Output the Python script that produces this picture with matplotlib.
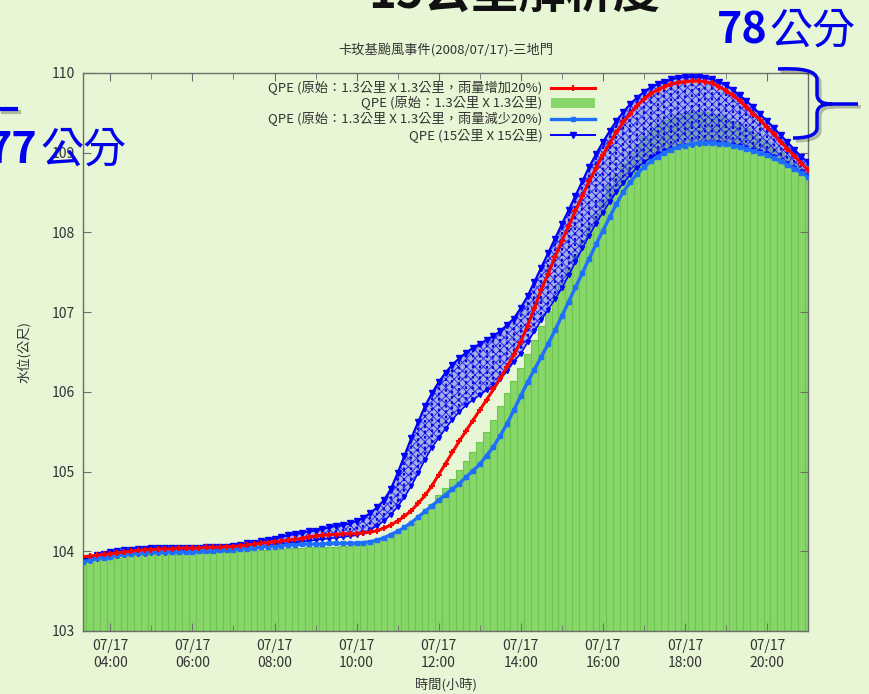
import numpy as np
import pandas as pd
import matplotlib
matplotlib.use("Agg")
import matplotlib.pyplot as plt
import matplotlib.dates as mdates
import matplotlib.patheffects as pe
from matplotlib.path import Path
from matplotlib.patches import PathPatch, Rectangle
from matplotlib.lines import Line2D

plt.rcParams['font.family'] = ['Noto Sans CJK TC', 'DejaVu Sans']
plt.rcParams['hatch.linewidth'] = 0.6

# --- Data: 10-minute water levels (m), 07/17 03:20 - 21:00 ---
times = pd.date_range("2008-07-17 03:20", "2008-07-17 21:00", freq="10min")

# QPE original 1.3km x 1.3km, rainfall +20%
level_plus = [
    103.93, 103.94, 103.95, 103.96, 103.97, 103.98, 103.99, 104.00, 104.01, 104.02,
    104.02, 104.03, 104.03, 104.03, 104.04, 104.04, 104.04, 104.04, 104.05, 104.05,
    104.05, 104.06, 104.06, 104.07, 104.08, 104.09, 104.10, 104.11, 104.12, 104.13,
    104.14, 104.15, 104.16, 104.18, 104.19, 104.20, 104.21, 104.21, 104.22, 104.22,
    104.22, 104.23, 104.24, 104.26, 104.29, 104.33, 104.38, 104.44, 104.51, 104.60,
    104.70, 104.82, 104.96, 105.10, 105.24, 105.38, 105.51, 105.64, 105.77, 105.90,
    106.03, 106.17, 106.31, 106.47, 106.63, 106.83, 107.05, 107.28, 107.48, 107.69,
    107.89, 108.08, 108.27, 108.46, 108.64, 108.81, 108.97, 109.12, 109.26, 109.38,
    109.49, 109.59, 109.67, 109.74, 109.79, 109.83, 109.86, 109.88, 109.89, 109.90,
    109.90, 109.89, 109.87, 109.83, 109.78, 109.72, 109.65, 109.57, 109.49, 109.41,
    109.32, 109.23, 109.14, 109.05, 108.96, 108.87, 108.78,
]

# QPE original 1.3km x 1.3km
level_orig = [
    103.87, 103.88, 103.89, 103.90, 103.91, 103.92, 103.93, 103.94, 103.95, 103.95,
    103.96, 103.96, 103.97, 103.97, 103.97, 103.98, 103.98, 103.98, 103.98, 103.99,
    103.99, 103.99, 104.00, 104.00, 104.01, 104.01, 104.02, 104.02, 104.03, 104.03,
    104.04, 104.04, 104.04, 104.05, 104.05, 104.05, 104.06, 104.06, 104.07, 104.07,
    104.08, 104.09, 104.11, 104.13, 104.16, 104.20, 104.24, 104.29, 104.35, 104.42,
    104.50, 104.59, 104.70, 104.80, 104.91, 105.02, 105.13, 105.25, 105.37, 105.50,
    105.65, 105.82, 105.98, 106.14, 106.30, 106.47, 106.65, 106.83, 107.01, 107.19,
    107.37, 107.55, 107.73, 107.91, 108.08, 108.25, 108.42, 108.58, 108.73, 108.87,
    109.00, 109.11, 109.21, 109.29, 109.36, 109.41, 109.45, 109.48, 109.50, 109.51,
    109.51, 109.51, 109.49, 109.47, 109.44, 109.40, 109.36, 109.31, 109.25, 109.19,
    109.13, 109.07, 109.01, 108.94, 108.87, 108.80, 108.74,
]

# QPE original 1.3km x 1.3km, rainfall -20%
level_minus = [
    103.87, 103.89, 103.91, 103.92, 103.93, 103.95, 103.96, 103.97, 103.98, 103.98,
    103.99, 103.99, 103.99, 103.99, 103.99, 103.99, 103.99, 104.00, 104.00, 104.00,
    104.01, 104.01, 104.02, 104.03, 104.03, 104.04, 104.05, 104.06, 104.06, 104.07,
    104.08, 104.08, 104.09, 104.09, 104.09, 104.09, 104.10, 104.10, 104.10, 104.10,
    104.10, 104.11, 104.12, 104.14, 104.17, 104.21, 104.25, 104.30, 104.36, 104.43,
    104.50, 104.57, 104.64, 104.71, 104.78, 104.85, 104.93, 105.01, 105.09, 105.20,
    105.31, 105.45, 105.60, 105.77, 105.95, 106.12, 106.28, 106.44, 106.60, 106.77,
    106.95, 107.13, 107.31, 107.49, 107.67, 107.85, 108.02, 108.19, 108.36, 108.51,
    108.63, 108.73, 108.82, 108.89, 108.95, 109.00, 109.04, 109.07, 109.09, 109.11,
    109.12, 109.12, 109.12, 109.11, 109.11, 109.09, 109.07, 109.05, 109.02, 109.00,
    108.97, 108.93, 108.89, 108.85, 108.80, 108.75, 108.70,
]

# QPE 15km x 15km ensemble: upper / lower envelope of the members
ens_high = [
    103.89, 103.92, 103.95, 103.97, 103.99, 104.00, 104.01, 104.02, 104.03, 104.03,
    104.04, 104.04, 104.04, 104.04, 104.04, 104.04, 104.04, 104.04, 104.05, 104.05,
    104.05, 104.06, 104.07, 104.08, 104.10, 104.11, 104.13, 104.14, 104.16, 104.18,
    104.20, 104.22, 104.23, 104.25, 104.26, 104.28, 104.30, 104.32, 104.33, 104.35,
    104.38, 104.42, 104.48, 104.55, 104.64, 104.78, 104.98, 105.20, 105.42, 105.62,
    105.82, 105.98, 106.12, 106.24, 106.34, 106.42, 106.49, 106.55, 106.60, 106.65,
    106.70, 106.76, 106.84, 106.92, 107.05, 107.20, 107.38, 107.56, 107.74, 107.92,
    108.10, 108.28, 108.46, 108.64, 108.82, 108.98, 109.13, 109.27, 109.40, 109.51,
    109.61, 109.69, 109.76, 109.82, 109.86, 109.89, 109.92, 109.94, 109.95, 109.95,
    109.95, 109.94, 109.92, 109.89, 109.85, 109.79, 109.72, 109.65, 109.57, 109.48,
    109.40, 109.31, 109.22, 109.13, 109.04, 108.95, 108.88,
]
ens_low = [
    103.86, 103.88, 103.90, 103.92, 103.93, 103.94, 103.95, 103.96, 103.97, 103.97,
    103.98, 103.98, 103.98, 103.99, 103.99, 103.99, 103.99, 104.00, 104.00, 104.00,
    104.01, 104.01, 104.02, 104.03, 104.04, 104.05, 104.06, 104.07, 104.08, 104.09,
    104.10, 104.11, 104.12, 104.13, 104.14, 104.15, 104.16, 104.17, 104.18, 104.19,
    104.20, 104.23, 104.27, 104.32, 104.38, 104.46, 104.56, 104.68, 104.82, 104.98,
    105.15, 105.30, 105.42, 105.54, 105.65, 105.75, 105.83, 105.90, 105.96, 106.02,
    106.08, 106.16, 106.26, 106.38, 106.48, 106.62, 106.76, 106.90, 107.03, 107.16,
    107.30, 107.46, 107.63, 107.80, 107.96, 108.11, 108.25, 108.38, 108.51, 108.62,
    108.72, 108.81, 108.88, 108.94, 108.98, 109.02, 109.05, 109.07, 109.09, 109.10,
    109.11, 109.12, 109.12, 109.12, 109.11, 109.10, 109.08, 109.06, 109.03, 109.01,
    108.98, 108.94, 108.90, 108.86, 108.81, 108.76, 108.71,
]

labels = [
    "QPE (原始：1.3公里 X 1.3公里，雨量增加20%)",
    "QPE (原始：1.3公里 X 1.3公里)",
    "QPE (原始：1.3公里 X 1.3公里，雨量減少20%)",
    "QPE (15公里 X 15公里)",
]

BG = '#e7f6d4'
TXT = '#333333'
RED = '#ff0000'
GREEN = '#88d66a'
LBLUE = '#1f6fff'
BLUE = '#0000ff'
W, H = 869, 694


def fx(x):
    return x / W


def fy(y):
    return 1 - y / H


fig = plt.figure(figsize=(W / 100, H / 100), dpi=100, facecolor=BG)
ax = fig.add_axes([fx(83), fy(631), 725 / W, 558 / H])
ax.set_facecolor(BG)

# --- Series ---
bar_w = 10 / (24 * 60)
ax.bar(times, level_orig, width=bar_w, color=GREEN, edgecolor='#6cc64e',
       linewidth=0.8, zorder=1)

# ensemble band: cross-hatched spread plus dotted member columns
ax.fill_between(times, ens_low, ens_high, facecolor=(0.42, 0.45, 0.95, 0.55),
                edgecolor='#1a1aff', hatch='xxxx', linewidth=0, zorder=2)
ax.vlines(times, ens_low, ens_high, colors='#0808d0', linestyles=(0, (1.2, 1.2)),
          linewidth=1.6, zorder=2.5)
ax.plot(times, ens_high, color=BLUE, lw=1.6, marker='v', ms=4, zorder=3)
ax.plot(times, ens_low, color=BLUE, lw=1.1, marker='v', ms=3, zorder=3)
ax.plot(times, level_minus, color=LBLUE, lw=2.4, marker='s', ms=3.5, zorder=4)
ax.plot(times, level_plus, color=RED, lw=2.2, marker='+', ms=5, mew=1.5, zorder=5)

# --- Axes ---
ax.set_xlim(times[0], times[-1])
ax.set_ylim(103, 110)
ax.set_yticks(np.arange(103, 111, 1))
ax.xaxis.set_major_locator(mdates.HourLocator(byhour=range(0, 24, 2)))
ax.xaxis.set_minor_locator(mdates.HourLocator())
ax.xaxis.set_major_formatter(mdates.DateFormatter('%m/%d\n%H:%M'))

for s in ax.spines.values():
    s.set_color('#6d6d6d')
    s.set_linewidth(1.0)
ax.tick_params(which='both', direction='in', top=True, right=True,
               color='#6d6d6d', labelcolor=TXT, labelsize=10)
ax.tick_params(which='major', length=6, pad=6)
ax.tick_params(which='minor', length=4)

ax.set_title("卡玫基颱風事件(2008/07/17)-三地門", fontsize=9.5, color=TXT, pad=14)
ax.set_xlabel("時間(小時)", fontsize=9.5, color=TXT, labelpad=6)
ax.set_ylabel("水位(公尺)", fontsize=9.5, color=TXT, labelpad=15)

# --- Legend (text right-justified, sample to the right) ---
rows_y = [0.973, 0.946, 0.918, 0.889]
x_txt, x0, x1 = 0.634, 0.646, 0.706
for lab, yy in zip(labels, rows_y):
    ax.text(x_txt, yy, lab, transform=ax.transAxes, ha='right', va='center',
            fontsize=9.5, color=TXT, zorder=6)
ax.add_line(Line2D([x0, (x0 + x1) / 2, x1], [rows_y[0]] * 3, transform=ax.transAxes,
                   color=RED, lw=2.2, marker='+', ms=5, mew=1.5, markevery=[1], zorder=6))
ax.add_patch(Rectangle((x0, rows_y[1] - 0.009), x1 - x0, 0.018, transform=ax.transAxes,
                       facecolor=GREEN, edgecolor='none', zorder=6))
ax.add_line(Line2D([x0, (x0 + x1) / 2, x1], [rows_y[2]] * 3, transform=ax.transAxes,
                   color=LBLUE, lw=2.4, marker='s', ms=3.5, markevery=[1], zorder=6))
ax.add_line(Line2D([x0, (x0 + x1) / 2, x1], [rows_y[3]] * 3, transform=ax.transAxes,
                   color=BLUE, lw=1.4, marker='v', ms=4, markevery=[1], zorder=6))

# --- Slide annotations ---
fig.text(fx(514), fy(8), "15公里解析度", ha='center', va='baseline',
         fontsize=34, fontweight='bold', color='#111111')

ANN = '#0000ee'
fig.text(fx(768), fy(44), "78", ha='right', va='baseline', fontsize=31,
         fontweight='bold', color=ANN)
fig.text(fx(769), fy(44), "公分", ha='left', va='baseline', fontsize=31, color=ANN)
fig.text(fx(38), fy(163), "77", ha='right', va='baseline', fontsize=31,
         fontweight='bold', color=ANN)
fig.text(fx(40), fy(163), "公分", ha='left', va='baseline', fontsize=31, color=ANN)

shadow = [pe.SimpleLineShadow(offset=(2, -2), alpha=0.25), pe.Normal()]

# curly brace on the right side
brace_px = [
    (778, 69), (800, 68), (817, 70), (817, 80),
    (817, 94),
    (817, 101), (822, 104), (832, 104),
    (858, 104),
    (832, 104),
    (822, 104), (817, 107), (817, 114),
    (817, 128),
    (817, 136), (805, 138), (793, 138),
]
codes = ([Path.MOVETO] + [Path.CURVE4] * 3 + [Path.LINETO] + [Path.CURVE4] * 3
         + [Path.LINETO] + [Path.MOVETO] + [Path.CURVE4] * 3 + [Path.LINETO]
         + [Path.CURVE4] * 3)
brace = Path([(fx(x), fy(y)) for x, y in brace_px], codes)
fig.add_artist(PathPatch(brace, transform=fig.transFigure, fill=False,
                         edgecolor=ANN, linewidth=2.5, path_effects=shadow))
fig.add_artist(Line2D([fx(0), fx(16)], [fy(109), fy(109)], transform=fig.transFigure,
                      color=ANN, linewidth=3, path_effects=shadow))

fig.savefig("out.png", dpi=100, facecolor=BG)
